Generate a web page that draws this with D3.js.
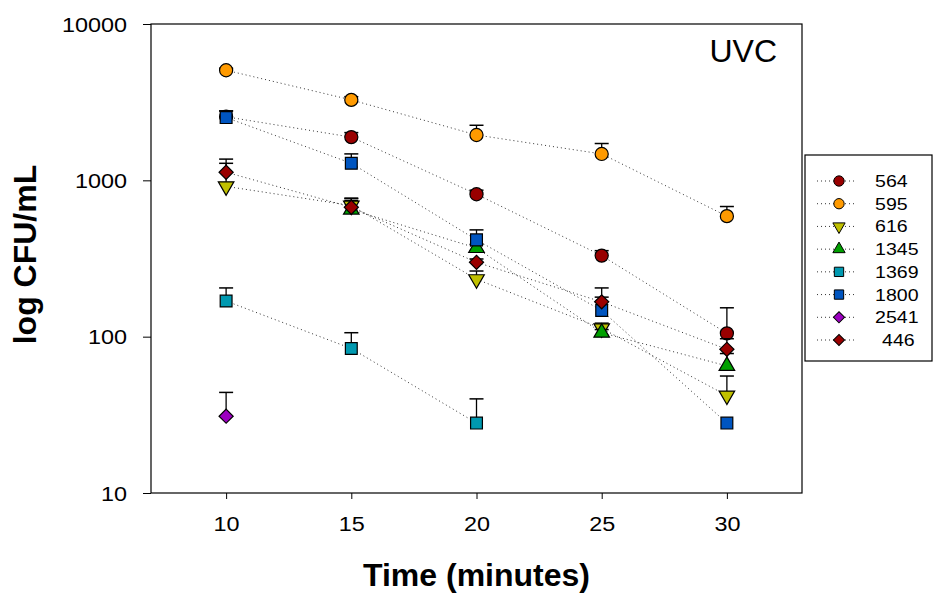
<!DOCTYPE html>
<html>
<head>
<meta charset="utf-8">
<script src="https://cdn.jsdelivr.net/npm/d3@7"></script>
<style>
  body { margin: 0; background: #fff; }
  svg { display: block; font-family: "Liberation Sans", Arial, sans-serif; }
</style>
</head>
<body>
<div id="chart"></div>
<script>
const width = 933;
const height = 594;

const times = [10, 15, 20, 25, 30];
const strains = ["564", "595", "616", "1345", "1369", "1800", "2541", "446"];

// mean CFU/mL per time point (null = not measured)
const cfu564 = [2550, 1890, 815, 330, 105];
const cfu595 = [5060, 3270, 1950, 1475, 590];
const cfu616 = [915, 690, 233, 113, 42];
const cfu1345 = [null, 650, 369, 106, 65];
const cfu1369 = [169, 84, 28, null, null];
const cfu1800 = [2520, 1286, 416, 147, 28];
const cfu2541 = [31, null, null, null, null];
const cfu446 = [1127, 673, 299, 167, 83];

// upper error bars
const err564 = [230, 130, 50, 25, 48];
const err595 = [150, 160, 300, 245, 90];
const err616 = [370, 50, 30, 9, 14];
const err1345 = [null, 120, 20, 5, 13];
const err1369 = [36, 22, 12, null, null];
const err1800 = [260, 190, 66, 58, 0];
const err2541 = [13, null, null, null, null];
const err446 = [240, 90, 15, 12, 14];

const yTicks = [10, 100, 1000, 10000];

const means = [cfu564, cfu595, cfu616, cfu1345, cfu1369, cfu1800, cfu2541, cfu446];
const errors = [err564, err595, err616, err1345, err1369, err1800, err2541, err446];

const fills = ["#990000", "#ff9a00", "#c0c000", "#00a000", "#0099b0", "#0055c0", "#9c00c0", "#990000"];
const shapes = ["circle", "circle", "down", "up", "square", "square", "diamond", "diamond"];

const margin = { left: 151, right: 131, top: 24, bottom: 101 };

const svg = d3
  .select("#chart")
  .append("svg")
  .attr("width", width)
  .attr("height", height);

const x = d3
  .scaleLinear()
  .domain([7, 33])
  .range([margin.left, width - margin.right]);

const y = d3
  .scaleLog()
  .domain([10, 10000])
  .range([height - margin.bottom, margin.top]);

// marker path for a given shape
function markerPath(shape, k) {
  if (shape === "circle") return d3.symbol(d3.symbolCircle, 135 * k)();
  if (shape === "square") return d3.symbol(d3.symbolSquare, 140 * k)();
  if (shape === "diamond") return d3.symbol(d3.symbolSquare, 100 * k)();
  return d3.symbol(d3.symbolTriangle, 105 * k)();
}
function markerRotate(shape) {
  if (shape === "diamond") return 45;
  if (shape === "down") return 180;
  return 0;
}

const series = strains.map((name, i) => ({
  name,
  fill: fills[i],
  shape: shapes[i],
  points: times
    .map((t, j) => ({ t, v: means[i][j], e: errors[i][j] }))
    .filter((d) => d.v != null),
}));

// frame
svg
  .append("rect")
  .attr("x", x.range()[0])
  .attr("y", y.range()[1])
  .attr("width", x.range()[1] - x.range()[0])
  .attr("height", y.range()[0] - y.range()[1])
  .attr("fill", "none")
  .attr("stroke", "#000")
  .attr("stroke-width", 1.2);

// axes
const yAxis = d3
  .axisLeft(y)
  .tickValues(yTicks)
  .tickFormat(d3.format("d"))
  .tickSize(8)
  .tickSizeOuter(0);

const gy = svg
  .append("g")
  .attr("transform", `translate(${margin.left},0)`)
  .call(yAxis);
gy.select(".domain").remove();
gy.selectAll("line").attr("stroke", "#000");
gy.selectAll("text")
  .attr("x", -24 / 1.2)
  .attr("dy", "0.36em")
  .attr("transform", "scale(1.2,1)")
  .style("font-size", "19.5px")
  .style("font-family", "'Liberation Sans', Arial, sans-serif")
  .attr("fill", "#000");

const xAxis = d3.axisBottom(x).tickValues(times).tickSize(6).tickSizeOuter(0);

const gx = svg
  .append("g")
  .attr("transform", `translate(0,${height - margin.bottom})`)
  .call(xAxis);
gx.select(".domain").remove();
gx.selectAll("line").attr("stroke", "#000");
gx.selectAll("text")
  .attr("y", 38)
  .attr("dy", 0)
  .attr("transform", "scale(1.2,1)")
  .style("font-size", "19.5px")
  .style("font-family", "'Liberation Sans', Arial, sans-serif")
  .attr("fill", "#000");

// axis titles
svg
  .append("text")
  .attr("x", (x.range()[0] + x.range()[1]) / 2)
  .attr("y", 586)
  .attr("text-anchor", "middle")
  .style("font-size", "32px")
  .style("font-weight", "bold")
  .text("Time (minutes)");

svg
  .append("text")
  .attr("transform", `translate(36,${(y.range()[0] + y.range()[1]) / 2 - 4}) rotate(-90)`)
  .attr("text-anchor", "middle")
  .style("font-size", "32px")
  .style("font-weight", "bold")
  .text("log CFU/mL");

svg
  .append("text")
  .attr("x", 777)
  .attr("y", 62)
  .attr("text-anchor", "end")
  .style("font-size", "32px")
  .text("UVC");

// connecting dotted lines
const line = d3
  .line()
  .x((d) => x(d.t))
  .y((d) => y(d.v));

svg
  .append("g")
  .selectAll("path")
  .data(series)
  .join("path")
  .attr("d", (s) => line(s.points))
  .attr("fill", "none")
  .attr("stroke", "#333")
  .attr("stroke-width", 1)
  .attr("stroke-dasharray", "1,3");

// error bars + markers, one series at a time
series.forEach((s) => {
  const g = svg.append("g");
  const withErr = s.points.filter((d) => d.e > 0);
  g.selectAll("line.bar")
    .data(withErr)
    .join("line")
    .attr("class", "bar")
    .attr("x1", (d) => x(d.t))
    .attr("x2", (d) => x(d.t))
    .attr("y1", (d) => y(d.v))
    .attr("y2", (d) => y(d.v + d.e))
    .attr("stroke", "#000")
    .attr("stroke-width", 1.3);
  g.selectAll("line.cap")
    .data(withErr)
    .join("line")
    .attr("class", "cap")
    .attr("x1", (d) => x(d.t) - 7)
    .attr("x2", (d) => x(d.t) + 7)
    .attr("y1", (d) => y(d.v + d.e))
    .attr("y2", (d) => y(d.v + d.e))
    .attr("stroke", "#000")
    .attr("stroke-width", 1.5);
  g.selectAll("path")
    .data(s.points)
    .join("path")
    .attr("d", markerPath(s.shape, 1))
    .attr("transform", (d) => `translate(${x(d.t)},${y(d.v)}) rotate(${markerRotate(s.shape)})`)
    .attr("fill", s.fill)
    .attr("stroke", "#000")
    .attr("stroke-width", 1.2);
});

// legend
const legend = svg.append("g");
legend
  .append("rect")
  .attr("x", 805)
  .attr("y", 155)
  .attr("width", 127)
  .attr("height", 206)
  .attr("fill", "#fff")
  .attr("stroke", "#000")
  .attr("stroke-width", 1.2);

const rowY = d3.scalePoint().domain(strains).range([181, 340]);

const rows = legend
  .selectAll("g.row")
  .data(series)
  .join("g")
  .attr("class", "row")
  .attr("transform", (s) => `translate(0,${rowY(s.name)})`);

rows
  .append("line")
  .attr("x1", 817)
  .attr("x2", 857)
  .attr("stroke", "#333")
  .attr("stroke-dasharray", "1,3");

rows
  .append("path")
  .attr("d", (s) => markerPath(s.shape, 0.62))
  .attr("transform", (s) => `translate(839,0) rotate(${markerRotate(s.shape)})`)
  .attr("fill", (s) => s.fill)
  .attr("stroke", "#000")
  .attr("stroke-width", 1);

rows
  .append("text")
  .attr("transform", (s) => `translate(${s.name === "446" ? 882 : 875},6) scale(1.2,1)`)
  .style("font-size", "16.3px")
  .text((s) => s.name);
</script>
</body>
</html>
